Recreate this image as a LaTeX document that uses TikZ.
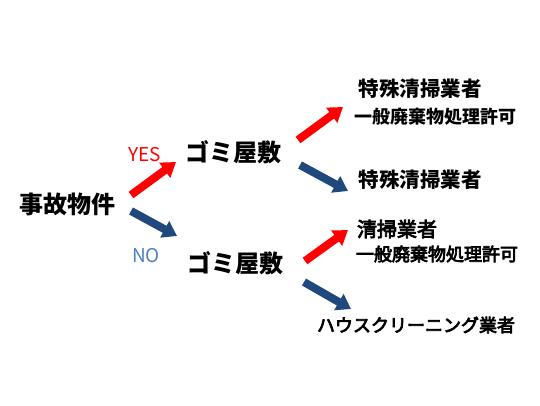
\documentclass[tikz,border=0pt]{standalone}
\usepackage{fontspec}
\newfontfamily\jp{Noto Sans CJK JP}
\newfontfamily\jpm{Noto Sans CJK JP}[FakeBold=4]
\usetikzlibrary{arrows.meta}
\definecolor{arrred}{RGB}{255,0,0}
\definecolor{arrblue}{RGB}{31,73,125}
\definecolor{noblue}{RGB}{79,129,189}
\tikzset{
  lbl/.style={inner sep=0pt, font=\jp\bfseries},
  big/.style={lbl, font=\jp\bfseries\fontsize{24}{28}\selectfont},
  mid/.style={lbl, font=\jp\bfseries\fontsize{20.5}{24}\selectfont},
  small/.style={lbl, font=\jp\bfseries\fontsize{18}{22}\selectfont},
  midr/.style={lbl, font=\jpm\fontsize{20}{24}\selectfont},
  smallr/.style={lbl, font=\jpm\fontsize{18}{22}\selectfont},
  yn/.style={inner sep=0pt, font=\jp\fontsize{19}{22}\selectfont},
  fat/.style={line width=8pt, -{Triangle[length=14pt,width=18pt]}},
  redarr/.style={fat, draw=arrred},
  bluearr/.style={fat, draw=arrblue},
}
\begin{document}
\begin{tikzpicture}[x=1pt,y=-1pt]
\useasboundingbox[fill=white] (0,0) rectangle (540,405);
\node[big] (jiko) at (67,204) {事故物件};
\node[yn, text=arrred] (yes) at (145,155) {YES};
\node[yn, text=noblue] (no) at (146,256) {NO};
\node[big] (gomi1) at (233,152) {ゴミ屋敷};
\node[big] (gomi2) at (235,263) {ゴミ屋敷};
\node[mid] (toku1) at (420,89) {特殊清掃業者};
\node[small] (ippan1) at (435,117) {一般廃棄物処理許可};
\node[mid] (toku2) at (420,180) {特殊清掃業者};
\node[midr] (seiso) at (397,229) {清掃業者};
\node[smallr] (ippan2) at (437,254) {一般廃棄物処理許可};
\node[smallr] (house) at (416,325) {ハウスクリーニング業者};
\coordinate (a1s) at (131,195);
\coordinate (a1e) at (176,162);
\coordinate (b1s) at (131,211);
\coordinate (b1e) at (177,236);
\coordinate (a2s) at (298,140);
\coordinate (a2e) at (343,107);
\coordinate (b2s) at (300,165);
\coordinate (b2e) at (348,191);
\coordinate (a3s) at (305,261);
\coordinate (a3e) at (348,230);
\coordinate (b3s) at (304,282);
\coordinate (b3e) at (351,309);
\draw[redarr] (a1s) -- (a1e);
\draw[bluearr] (b1s) -- (b1e);
\draw[redarr] (a2s) -- (a2e);
\draw[bluearr] (b2s) -- (b2e);
\draw[redarr] (a3s) -- (a3e);
\draw[bluearr] (b3s) -- (b3e);
\end{tikzpicture}
\end{document}
